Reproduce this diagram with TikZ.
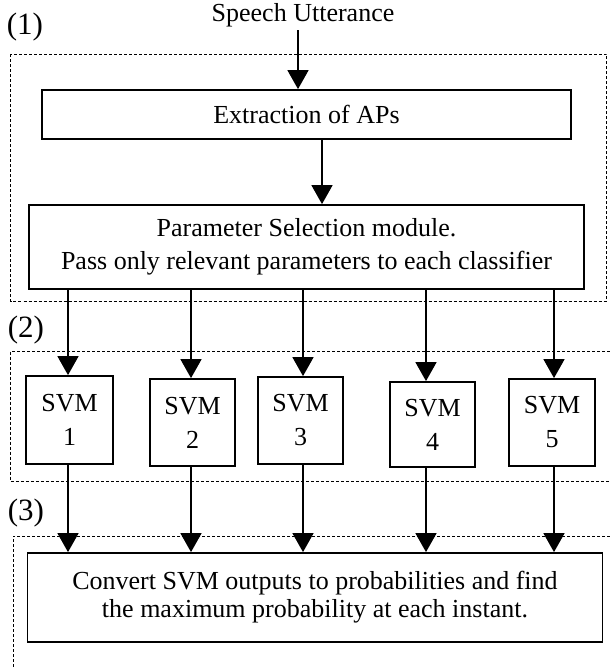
\documentclass[tikz,border=0pt]{standalone}
\usepackage{fontspec}
\setmainfont{Liberation Serif}
\usetikzlibrary{arrows.meta}
\tikzset{
  box/.style={draw, line width=1.8pt, inner sep=0pt, align=center},
  arr/.style={line width=1.6pt, -{Triangle[length=19pt,width=21pt]}},
  grp/.style={line width=0.8pt, dash pattern=on 3pt off 2pt},
  txt/.style={font=\fontsize{26}{28}\selectfont},
  lbl/.style={font=\fontsize{31}{33}\selectfont, inner sep=0pt}
}
\begin{document}
\begin{tikzpicture}[x=1pt,y=-1pt]
\useasboundingbox (0,0) rectangle (610,667);
% group frames
\draw[grp] (10.5,54) rectangle (606.5,301);
\draw[grp] (610,351) -- (10.5,351) -- (10.5,481) -- (610,481);
\draw[grp] (610,536) -- (13,536) -- (13,667);
% labels
\node[lbl] (l1) at (25,27) {(1)};
\node[lbl] (l2) at (26,330) {(2)};
\node[lbl] (l3) at (26,513) {(3)};
\node[txt] (speech) at (303,15) {Speech Utterance};
% boxes
\node[box,txt,minimum width=529pt,minimum height=49pt] (ext) at (306.5,114.5) {Extraction of APs};
\node[box,minimum width=555pt,minimum height=84pt,font=\fontsize{26}{33}\selectfont] (param) at (306.5,247)
  {Parameter Selection module.\\Pass only relevant parameters to each classifier};
\node[box,minimum width=87pt,minimum height=88pt,font=\fontsize{26}{34}\selectfont] (s1) at (69.5,420) {SVM\\1};
\node[box,minimum width=85pt,minimum height=87pt,font=\fontsize{26}{34}\selectfont] (s2) at (192.5,422.5) {SVM\\2};
\node[box,minimum width=85pt,minimum height=87pt,font=\fontsize{26}{34}\selectfont] (s3) at (300.5,420.5) {SVM\\3};
\node[box,minimum width=85pt,minimum height=85pt,font=\fontsize{26}{34}\selectfont] (s4) at (432.5,424.5) {SVM\\4};
\node[box,minimum width=86pt,minimum height=87pt,font=\fontsize{26}{34}\selectfont] (s5) at (552,422.5) {SVM\\5};
\node[box,txt,minimum width=575pt,minimum height=89pt] (conv) at (315,597.5)
  {Convert SVM outputs to probabilities and find\\the maximum probability at each instant.};
% connectors
\draw[arr] ([xshift=-5pt]speech.south) -- ([xshift=-5pt]speech.south |- ext.north);
\draw[arr] ([xshift=15.5pt]ext.south) -- ([xshift=15.5pt]ext.south |- param.north);
\foreach \s/\dx in {s1/-1.5, s2/-1.5, s3/2.5, s4/-6.5, s5/2} {
  \draw[arr] ([xshift=\dx pt]\s.north |- param.south) -- ([xshift=\dx pt]\s.north);
  \draw[arr] ([xshift=\dx pt]\s.south) -- ([xshift=\dx pt]\s.south |- conv.north);
}
\end{tikzpicture}
\end{document}
